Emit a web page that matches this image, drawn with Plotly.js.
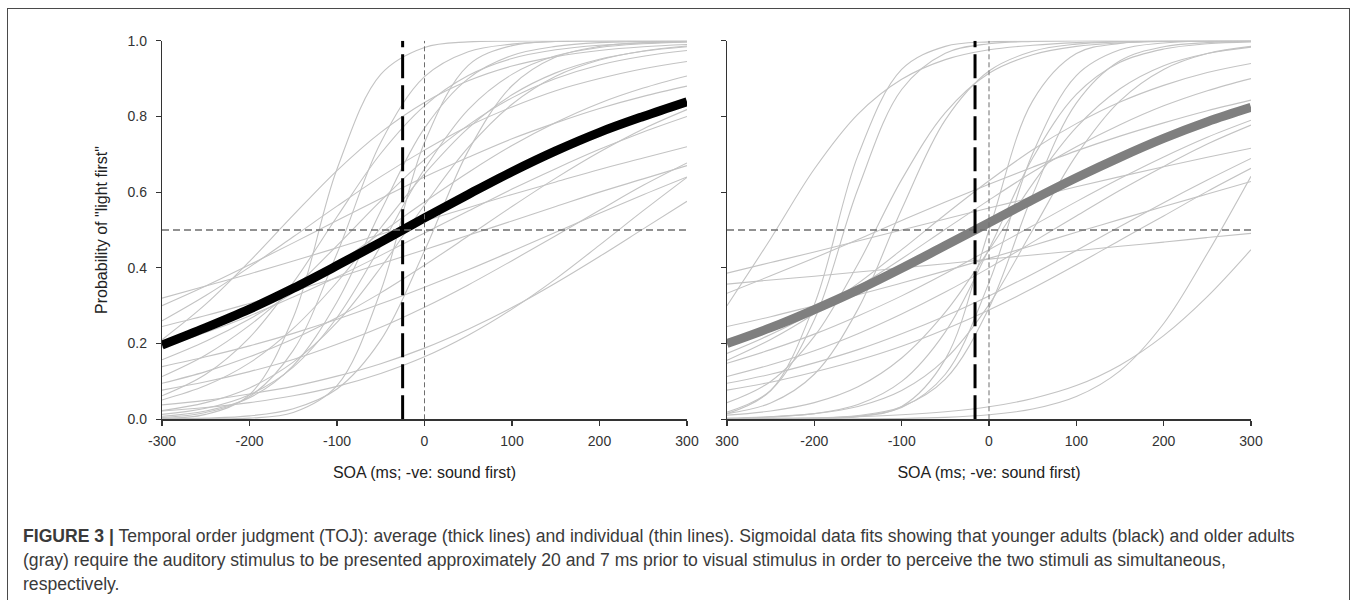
<!DOCTYPE html>
<html>
<head>
<meta charset="utf-8">
<script src="https://cdn.plot.ly/plotly-3.0.1.min.js"></script>
<style>
  html, body { margin: 0; padding: 0; background: #ffffff; }
  #wrap { position: relative; width: 1358px; height: 600px; overflow: hidden; }
  #chart { width: 1358px; height: 600px; }
  #frame { position: absolute; left: 7px; top: 8px; width: 1343px; height: 600px;
           border: 1.2px solid #4a4a4a; box-sizing: border-box; pointer-events: none; }
</style>
</head>
<body>
<div id="wrap">
<div id="chart"></div>
<div id="frame"></div>
</div>
<script>
// ---- data ----
const soa = [-300, -250, -200, -150, -100, -50, 0, 50, 100, 150, 200, 250, 300];
const xTickVals = [-300, -200, -100, 0, 100, 200, 300];
const xTickTextLeft = ['-300', '-200', '-100', '0', '100', '200', '300'];
const xTickTextRight = ['300', '-200', '-100', '0', '100', '200', '300'];
const yTickVals = [0, 0.2, 0.4, 0.6, 0.8, 1.0];
const yTickText = ['0.0', '0.2', '0.4', '0.6', '0.8', '1.0'];

const pssYoung = -25;   // point of subjective simultaneity, younger adults
const pssOlder = -16;   // older adults
const chance = 0.5;

const youngMean = [0.196, 0.242, 0.291, 0.346, 0.406, 0.468, 0.532, 0.594, 0.654, 0.709, 0.758, 0.800, 0.839];
const olderMean = [0.200, 0.242, 0.290, 0.342, 0.399, 0.459, 0.519, 0.580, 0.638, 0.692, 0.742, 0.786, 0.824];

const youngIndividual = [
  [0.003, 0.013, 0.065, 0.269, 0.661, 0.911, 0.982, 0.997, 0.999, 1, 1, 1, 1],
  [0.005, 0.018, 0.060, 0.182, 0.438, 0.731, 0.905, 0.971, 0.991, 0.998, 0.999, 1, 1],
  [0.008, 0.022, 0.057, 0.142, 0.310, 0.550, 0.769, 0.900, 0.961, 0.985, 0.995, 0.998, 0.999],
  [0.013, 0.029, 0.065, 0.138, 0.269, 0.458, 0.661, 0.818, 0.911, 0.960, 0.982, 0.992, 0.997],
  [0.062, 0.119, 0.216, 0.361, 0.535, 0.702, 0.828, 0.908, 0.953, 0.976, 0.988, 0.994, 0.997],
  [0.023, 0.044, 0.083, 0.151, 0.256, 0.401, 0.566, 0.718, 0.832, 0.906, 0.949, 0.973, 0.986],
  [0.000, 0.001, 0.003, 0.018, 0.089, 0.339, 0.731, 0.935, 0.987, 0.998, 1, 1, 1],
  [0.001, 0.003, 0.009, 0.028, 0.080, 0.209, 0.445, 0.709, 0.881, 0.957, 0.985, 0.995, 0.998],
  [0.320, 0.352, 0.384, 0.418, 0.453, 0.489, 0.524, 0.559, 0.594, 0.627, 0.660, 0.690, 0.720],
  [0.300, 0.352, 0.408, 0.466, 0.525, 0.583, 0.640, 0.692, 0.741, 0.783, 0.821, 0.853, 0.880],
  [0.260, 0.327, 0.402, 0.482, 0.563, 0.641, 0.711, 0.774, 0.825, 0.868, 0.900, 0.926, 0.945],
  [0.245, 0.274, 0.306, 0.339, 0.374, 0.411, 0.448, 0.486, 0.524, 0.562, 0.600, 0.635, 0.670],
  [0.210, 0.304, 0.417, 0.539, 0.657, 0.758, 0.837, 0.894, 0.933, 0.958, 0.974, 0.984, 0.990],
  [0.190, 0.229, 0.273, 0.323, 0.376, 0.433, 0.492, 0.550, 0.608, 0.662, 0.713, 0.759, 0.800],
  [0.157, 0.206, 0.265, 0.334, 0.411, 0.492, 0.574, 0.652, 0.723, 0.784, 0.835, 0.875, 0.907],
  [0.139, 0.165, 0.194, 0.227, 0.264, 0.305, 0.349, 0.395, 0.444, 0.494, 0.544, 0.593, 0.640],
  [0.113, 0.170, 0.248, 0.345, 0.459, 0.577, 0.686, 0.777, 0.849, 0.900, 0.936, 0.959, 0.974],
  [0.095, 0.126, 0.165, 0.212, 0.269, 0.334, 0.407, 0.484, 0.562, 0.637, 0.706, 0.767, 0.818],
  [0.077, 0.099, 0.126, 0.158, 0.198, 0.243, 0.296, 0.355, 0.419, 0.485, 0.552, 0.618, 0.677],
  [0.051, 0.089, 0.149, 0.240, 0.362, 0.506, 0.648, 0.769, 0.857, 0.915, 0.951, 0.972, 0.984],
  [0.038, 0.050, 0.067, 0.087, 0.114, 0.147, 0.188, 0.238, 0.295, 0.360, 0.430, 0.503, 0.576],
  [0.022, 0.031, 0.044, 0.062, 0.087, 0.121, 0.165, 0.222, 0.291, 0.371, 0.460, 0.551, 0.639]
];

const olderIndividual = [
  [0.300, 0.477, 0.661, 0.806, 0.898, 0.950, 0.976, 0.988, 0.995, 0.998, 0.999, 0.999, 1],
  [0.015, 0.076, 0.303, 0.697, 0.924, 0.985, 0.997, 0.999, 1, 1, 1, 1, 1],
  [0.019, 0.076, 0.263, 0.609, 0.871, 0.967, 0.992, 0.998, 1, 1, 1, 1, 1],
  [0.015, 0.043, 0.119, 0.291, 0.555, 0.791, 0.920, 0.972, 0.991, 0.997, 0.999, 1, 1],
  [0.000, 0.000, 0.001, 0.007, 0.034, 0.159, 0.500, 0.841, 0.966, 0.993, 0.999, 1, 1],
  [0.000, 0.001, 0.002, 0.008, 0.031, 0.119, 0.361, 0.702, 0.908, 0.976, 0.994, 0.999, 1],
  [0.000, 0.001, 0.003, 0.010, 0.033, 0.106, 0.294, 0.593, 0.835, 0.947, 0.984, 0.995, 0.999],
  [0.002, 0.006, 0.015, 0.039, 0.100, 0.231, 0.450, 0.690, 0.858, 0.943, 0.978, 0.992, 0.997],
  [0.003, 0.007, 0.015, 0.034, 0.076, 0.159, 0.303, 0.500, 0.697, 0.841, 0.924, 0.966, 0.985],
  [0.156, 0.211, 0.279, 0.359, 0.448, 0.541, 0.630, 0.712, 0.781, 0.838, 0.882, 0.916, 0.940],
  [0.174, 0.224, 0.283, 0.350, 0.424, 0.502, 0.579, 0.653, 0.720, 0.778, 0.828, 0.868, 0.900],
  [0.386, 0.414, 0.442, 0.471, 0.500, 0.529, 0.558, 0.586, 0.614, 0.641, 0.667, 0.692, 0.716],
  [0.357, 0.368, 0.378, 0.389, 0.400, 0.411, 0.423, 0.434, 0.445, 0.457, 0.468, 0.480, 0.491],
  [0.333, 0.379, 0.426, 0.475, 0.525, 0.574, 0.621, 0.666, 0.709, 0.748, 0.783, 0.815, 0.843],
  [0.245, 0.271, 0.300, 0.329, 0.360, 0.392, 0.425, 0.459, 0.494, 0.528, 0.562, 0.595, 0.628],
  [0.148, 0.184, 0.225, 0.273, 0.326, 0.385, 0.448, 0.511, 0.575, 0.636, 0.693, 0.745, 0.790],
  [0.113, 0.144, 0.181, 0.226, 0.278, 0.336, 0.400, 0.468, 0.537, 0.605, 0.668, 0.727, 0.777],
  [0.095, 0.119, 0.149, 0.184, 0.226, 0.273, 0.326, 0.384, 0.446, 0.509, 0.572, 0.632, 0.689],
  [0.077, 0.098, 0.125, 0.156, 0.193, 0.238, 0.289, 0.346, 0.408, 0.473, 0.537, 0.602, 0.663],
  [0.002, 0.003, 0.004, 0.007, 0.012, 0.020, 0.033, 0.055, 0.089, 0.143, 0.221, 0.324, 0.448],
  [0.000, 0.000, 0.000, 0.001, 0.002, 0.005, 0.012, 0.027, 0.060, 0.128, 0.253, 0.438, 0.642],
  [0.044, 0.100, 0.219, 0.410, 0.633, 0.810, 0.914, 0.963, 0.985, 0.994, 0.998, 0.999, 1],
  [0.011, 0.022, 0.044, 0.086, 0.162, 0.283, 0.447, 0.622, 0.771, 0.873, 0.934, 0.966, 0.983]
];

const captionLines = [
  '<b>FIGURE 3 |</b> Temporal order judgment (TOJ): average (thick lines) and individual (thin lines). Sigmoidal data fits showing that younger adults (black) and older adults',
  '(gray) require the auditory stimulus to be presented approximately 20 and 7 ms prior to visual stimulus in order to perceive the two stimuli as simultaneous,',
  'respectively.'
];

// ---- build ----
const W = 1358, H = 600;
const FONT = '"Liberation Sans", Arial, Helvetica, sans-serif';
const thinColor = '#c3c3c3';
const traces = [];

youngIndividual.forEach(v => traces.push({
  x: soa, y: v, xaxis: 'x', yaxis: 'y', type: 'scatter', mode: 'lines',
  line: { color: thinColor, width: 1.1, shape: 'spline', smoothing: 1 }, hoverinfo: 'skip', showlegend: false
}));
olderIndividual.forEach(v => traces.push({
  x: soa, y: v, xaxis: 'x2', yaxis: 'y2', type: 'scatter', mode: 'lines',
  line: { color: thinColor, width: 1.1, shape: 'spline', smoothing: 1 }, hoverinfo: 'skip', showlegend: false
}));
traces.push({
  x: soa, y: youngMean, xaxis: 'x', yaxis: 'y', type: 'scatter', mode: 'lines', name: 'Younger adults',
  line: { color: '#000000', width: 9, shape: 'spline', smoothing: 1 }, showlegend: false
});
traces.push({
  x: soa, y: olderMean, xaxis: 'x2', yaxis: 'y2', type: 'scatter', mode: 'lines', name: 'Older adults',
  line: { color: '#7f7f7f', width: 9, shape: 'spline', smoothing: 1 }, showlegend: false
});

function refShapes(xa, ya, pss) {
  return [
    { type: 'line', xref: xa, yref: ya, x0: soa[0], x1: soa[soa.length - 1], y0: chance, y1: chance,
      line: { color: '#6e6e6e', width: 1.3, dash: '7px,4px' }, layer: 'above' },
    { type: 'line', xref: xa, yref: ya, x0: 0, x1: 0, y0: 0, y1: 1,
      line: { color: '#6e6e6e', width: 1, dash: '5px,3px' }, layer: 'above' },
    { type: 'line', xref: xa, yref: ya, x0: pss, x1: pss, y0: 0, y1: 1,
      line: { color: '#000000', width: 3, dash: '24px,7px' }, layer: 'above' }
  ];
}

const axisCommon = {
  showgrid: false, zeroline: false, showline: true, linecolor: '#333', linewidth: 1.2,
  ticks: 'outside', ticklen: 5, tickwidth: 1.2, tickcolor: '#333',
  tickfont: { family: FONT, size: 14, color: '#333' }, fixedrange: true
};

const xDomL = [162 / W, 687 / W];
const xDomR = [727 / W, 1251 / W];
const yDom = [(H - 419.3) / H, (H - 40.7) / H];

const xTitle = { text: 'SOA (ms; -ve: sound first)', font: { family: FONT, size: 16, color: '#222' }, standoff: 18 };

const layout = {
  width: W, height: H,
  margin: { l: 0, r: 0, t: 0, b: 0 },
  paper_bgcolor: '#ffffff', plot_bgcolor: 'rgba(0,0,0,0)',
  showlegend: false,
  xaxis: Object.assign({}, axisCommon, {
    domain: xDomL, range: [-300, 300], anchor: 'y',
    tickmode: 'array', tickvals: xTickVals, ticktext: xTickTextLeft, ticklabelstandoff: 4,
    title: xTitle
  }),
  yaxis: Object.assign({}, axisCommon, {
    domain: yDom, range: [0, 1], anchor: 'x',
    tickmode: 'array', tickvals: yTickVals, ticktext: yTickText, ticklabelstandoff: 6,
    title: { text: 'Probability of "light first"', font: { family: FONT, size: 16, color: '#222' }, standoff: 16 }
  }),
  xaxis2: Object.assign({}, axisCommon, {
    domain: xDomR, range: [-300, 300], anchor: 'y2',
    tickmode: 'array', tickvals: xTickVals, ticktext: xTickTextRight, ticklabelstandoff: 4,
    title: xTitle
  }),
  yaxis2: Object.assign({}, axisCommon, {
    domain: yDom, range: [0, 1], anchor: 'x2',
    tickmode: 'array', tickvals: yTickVals, showticklabels: false
  }),
  shapes: [].concat(
    refShapes('x', 'y', pssYoung),
    refShapes('x2', 'y2', pssOlder)
  ),
  annotations: captionLines.map((t, i) => ({
    text: t, xref: 'paper', yref: 'paper', x: 21 / W, y: (H - (536 + 24 * i)) / H,
    xanchor: 'left', yanchor: 'middle', showarrow: false, align: 'left',
    font: { family: FONT, size: 17.6, color: '#3a3a3a' }
  }))
};

Plotly.newPlot('chart', traces, layout, { displayModeBar: false, staticPlot: true });
</script>
</body>
</html>
